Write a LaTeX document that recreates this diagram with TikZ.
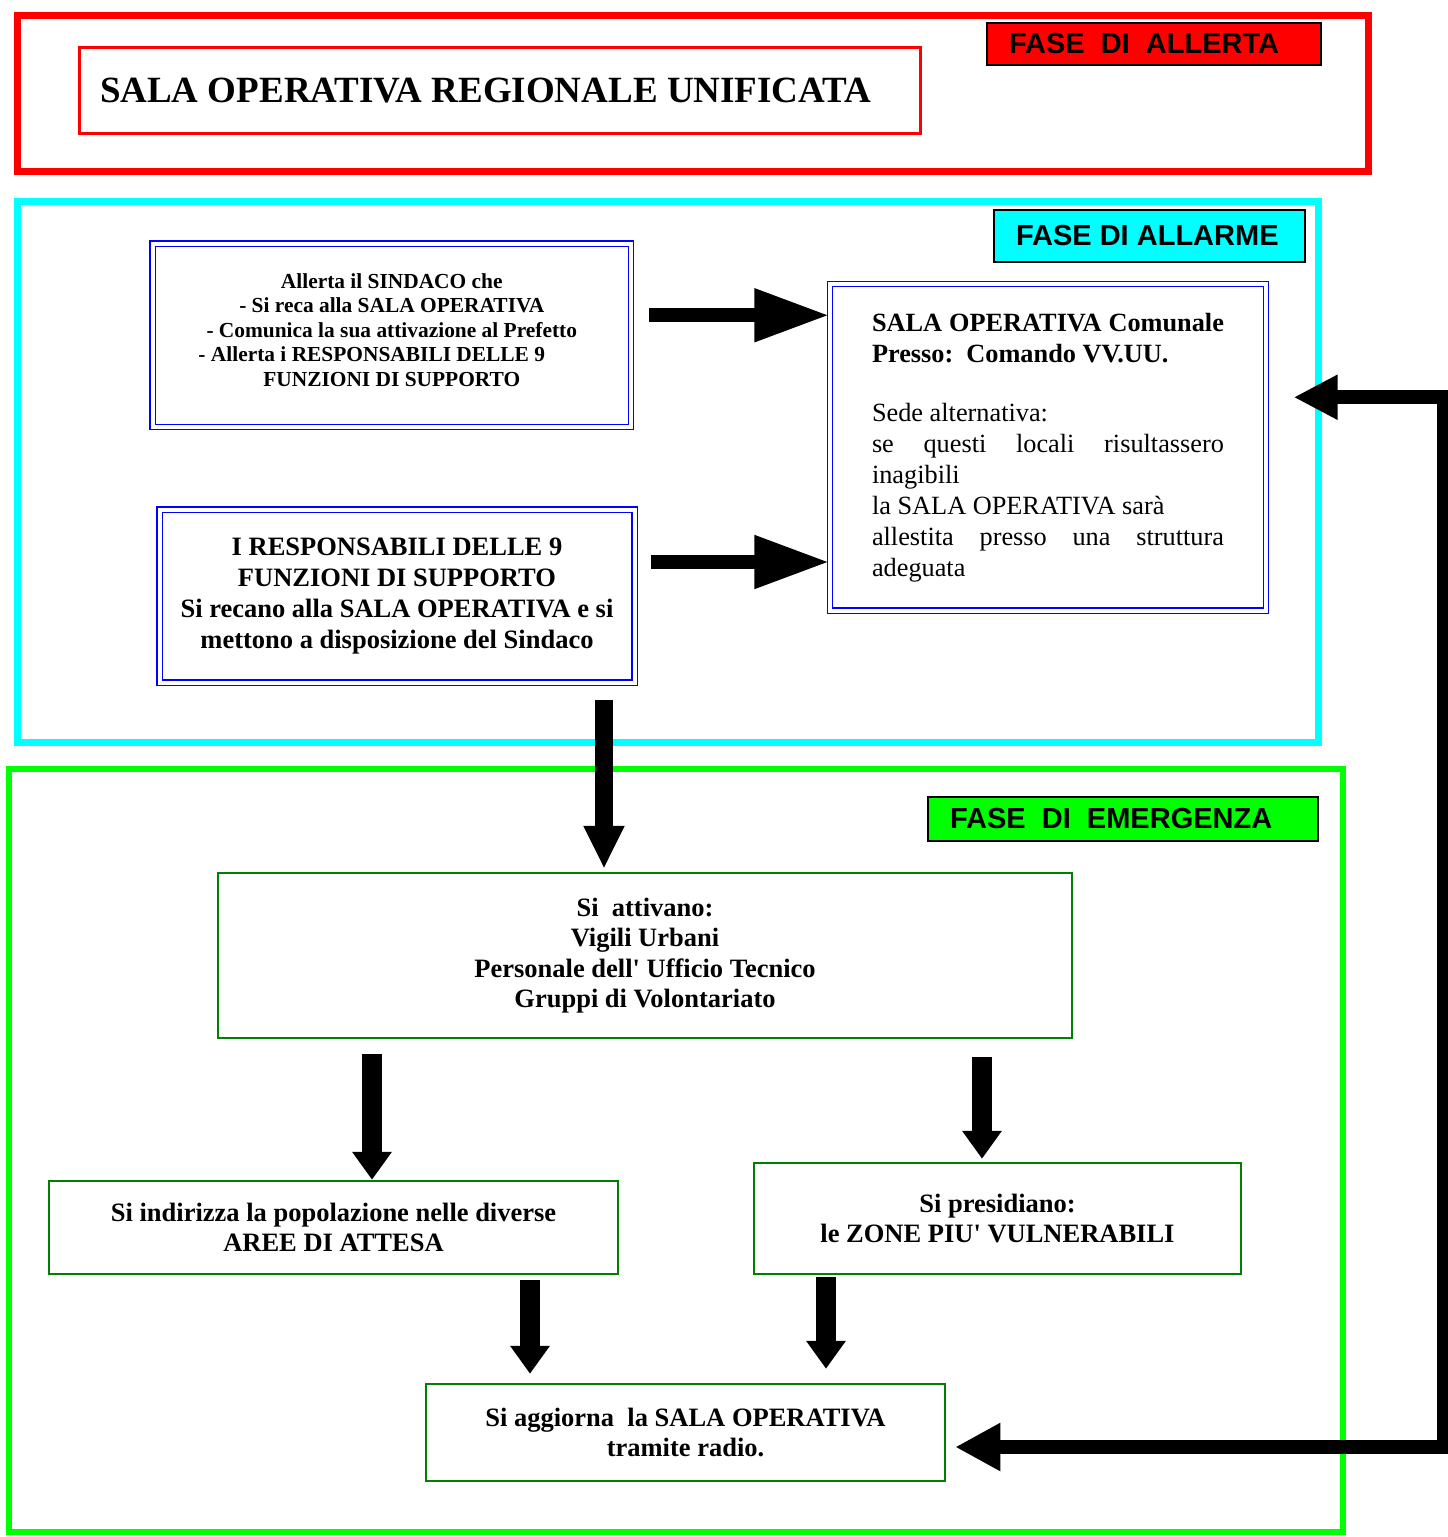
\documentclass[tikz,border=0pt]{standalone}
\usepackage{fontspec}
\setmainfont{Liberation Serif}
\newfontfamily\phasefont{Liberation Sans}
\usetikzlibrary{positioning,arrows.meta,calc}
\definecolor{fgreen}{RGB}{0,128,0}
\definecolor{lgreen}{RGB}{0,255,0}
\definecolor{lcyan}{RGB}{0,255,255}

\begin{document}
\begin{tikzpicture}[x=1pt,y=-1pt,
fase/.style={draw=black,line width=2pt,inner xsep=22pt,inner ysep=0pt,align=flush left,
font=\phasefont\bfseries\fontsize{29}{32}\selectfont},
bbox/.style={draw=blue,double,double distance=4pt,line width=1.2pt,align=flush center},
gbox/.style={draw=fgreen,line width=2.5pt,align=flush center,
font=\bfseries\fontsize{26.5}{30.5}\selectfont},
blk/.style={line width=14pt,-{Triangle[length=75pt,width=50pt]}},
dwn/.style={line width=18pt,-{Triangle[length=43pt,width=38pt]}},
gdwn/.style={line width=20pt,-{Triangle[length=28pt,width=38pt]}},
back/.style={line width=14pt,miter limit=4,
{Triangle[length=45pt,width=45pt]}-{Triangle[length=44pt,width=42pt]}}]
\useasboundingbox (0,0) rectangle (1448,1537);
\fill[white] (0,0) rectangle (1448,1537);

\draw[red,line width=7pt] (17.5,15.5) rectangle (1368.5,171.5);
\draw[lcyan,line width=7pt] (17.5,201.5) rectangle (1318.5,742.5);
\draw[lgreen,line width=6pt] (9,769) rectangle (1343,1532);

\node[draw=red,line width=3pt,minimum height=86pt,text width=800pt,inner xsep=20.5pt,
align=flush left,font=\bfseries\fontsize{37}{42}\selectfont] (title) at (500,90.5)
{SALA OPERATIVA REGIONALE UNIFICATA};
\node[fase,fill=red,minimum height=42pt,text width=290pt] (allerta) at (1154,44)
{FASE\ \ DI\ \ ALLERTA};
\node[fase,fill=lcyan,minimum height=52pt,text width=267pt] (allarme) at (1149.5,236)
{FASE DI ALLARME};
\node[fase,fill=lgreen,minimum height=44pt,text width=346pt] (emerg) at (1123,819)
{FASE\ \ DI\ \ EMERGENZA};

\node[bbox,minimum width=478.5pt,minimum height=183.5pt,
font=\bfseries\fontsize{21.4}{24.5}\selectfont] (sindaco) at (391.75,335.25)
{Allerta il SINDACO che\\- Si reca alla SALA OPERATIVA\\
- Comunica la sua attivazione al Prefetto\\
- Allerta i RESPONSABILI DELLE 9\hspace{40pt}\mbox{}\\FUNZIONI DI SUPPORTO\\[-14pt]\mbox{}};
\node[bbox,minimum width=475pt,minimum height=173pt,
font=\bfseries\fontsize{26.5}{31}\selectfont] (resp) at (397,596)
{I RESPONSABILI DELLE 9\\FUNZIONI DI SUPPORTO\\
Si recano alla SALA OPERATIVA e si\\mettono a disposizione del Sindaco};
\node[bbox,minimum width=436pt,minimum height=326.5pt,text width=352pt,align=flush left,
font=\fontsize{26.3}{31}\selectfont] (comunale) at (1048,447.25)
{\makebox[352pt][s]{\bfseries SALA OPERATIVA Comunale}\\\textbf{Presso:\ \ Comando VV.UU.}\\[28pt]
Sede alternativa:\\\makebox[352pt][s]{se questi locali risultassero}\\inagibili\\
la SALA OPERATIVA sarà\\\makebox[352pt][s]{allestita presso una struttura}\\adeguata};

\node[gbox,minimum width=854pt,minimum height=165pt] (attivano) at (645,955.5)
{Si\ \ attivano:\\Vigili Urbani\\Personale dell\textquotesingle{} Ufficio Tecnico\\Gruppi di Volontariato};
\node[gbox,minimum width=569pt,minimum height=93pt] (attesa) at (333.5,1227.5)
{Si indirizza la popolazione nelle diverse\\AREE DI ATTESA};
\node[gbox,minimum width=487pt,minimum height=111pt] (presidio) at (997.5,1218.5)
{Si presidiano:\\le ZONE PIU\textquotesingle{} VULNERABILI};
\node[gbox,minimum width=519pt,minimum height=97pt] (radio) at (685.5,1432.5)
{Si aggiorna\ \ la SALA OPERATIVA\\tramite radio.};

\coordinate (a1) at ([shift={(17pt,20pt)}]sindaco.east);
\coordinate (a2) at ([shift={(16pt,34pt)}]resp.east);
\draw[blk] (a1) -- (a1 -| comunale.west);
\draw[blk] (a2) -- (a2 -| comunale.west);

\coordinate (d1) at ([shift={(207pt,-17pt)}]resp.south);
\draw[dwn,shorten >=3pt] (d1) -- (d1 |- attivano.north);

\coordinate (g1) at ([shift={(-273pt,-15pt)}]attivano.south);
\coordinate (g2) at ([shift={(337pt,-18pt)}]attivano.south);
\coordinate (g3) at ([shift={(196.5pt,-5pt)}]attesa.south);
\coordinate (g4) at ([shift={(-171.5pt,-2pt)}]presidio.south);
\draw[gdwn] (g1) -- (g1 |- attesa.north);
\draw[gdwn,shorten >=3pt] (g2) -- (g2 |- presidio.north);
\draw[gdwn,shorten >=9pt] (g3) -- (g3 |- radio.north);
\draw[gdwn,shorten >=14pt] (g4) -- (g4 |- radio.north);

\coordinate (fb1) at ([shift={(9pt,-14.5pt)}]radio.east);
\coordinate (fb2) at ([shift={(27pt,50pt)}]comunale.east);
\coordinate (fbr) at (1444,0);
\draw[back] (fb1) -- (fb1 -| fbr) -- (fb2 -| fbr) -- (fb2);
\end{tikzpicture}
\end{document}
